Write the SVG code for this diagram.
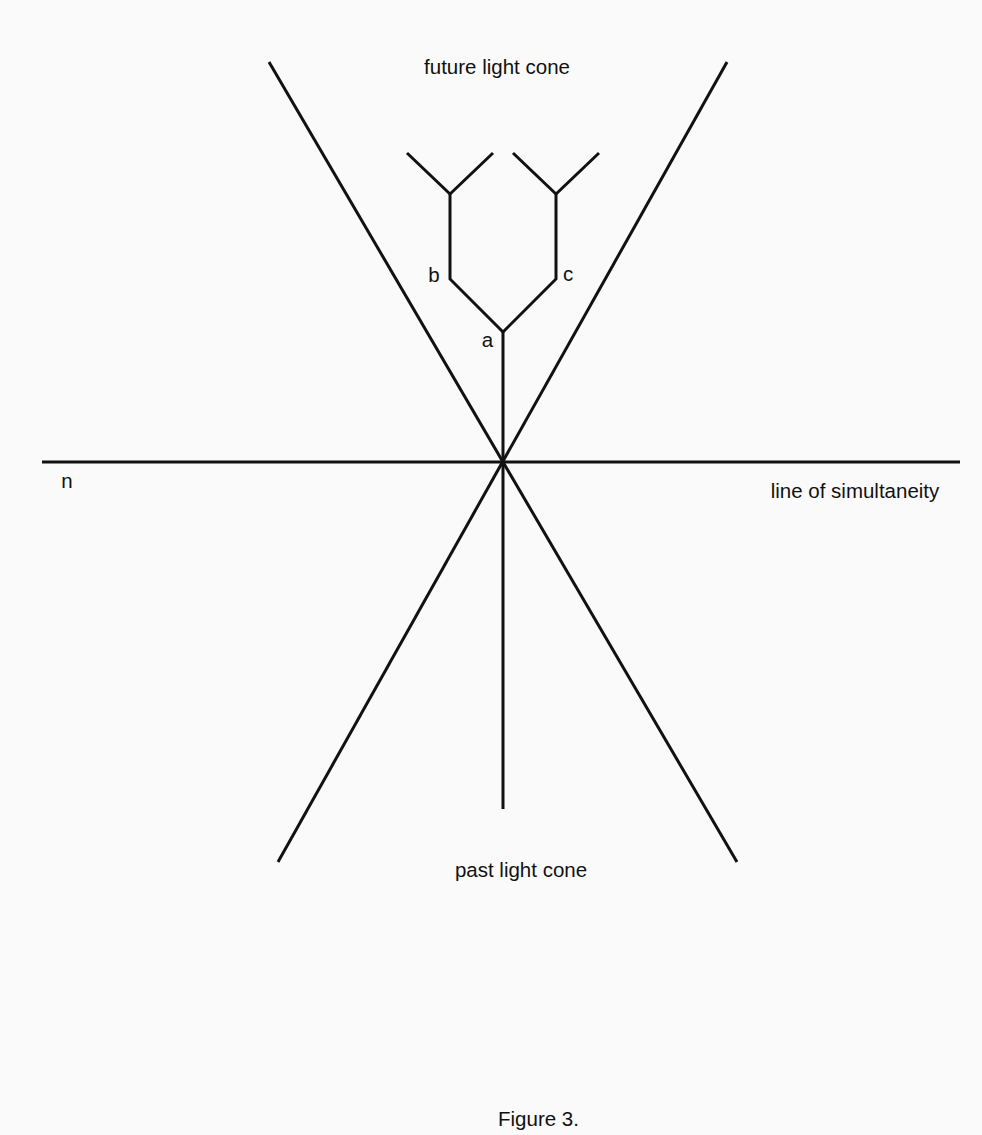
<svg xmlns="http://www.w3.org/2000/svg" width="982" height="1135" viewBox="0 0 982 1135">
<style>
.l{stroke:#111;stroke-width:3;fill:none;stroke-linecap:butt;stroke-linejoin:miter}
text{font-family:"Liberation Sans",Arial,sans-serif;font-size:20.5px;fill:#111}
</style>
<rect width="982" height="1135" fill="#fafafa"/>
<g id="connectors">
<line class="l" x1="269" y1="62" x2="737" y2="862"/>
<line class="l" x1="727" y1="62" x2="278" y2="862"/>
<line class="l" x1="42" y1="462" x2="960" y2="462"/>
<line class="l" x1="503" y1="332" x2="503" y2="809"/>
<polyline class="l" points="503,332 450,279 450,194"/>
<polyline class="l" points="503,332 556,279 556,194"/>
<polyline class="l" points="407,153 450,194 493,153"/>
<polyline class="l" points="513,153 556,194 599,153"/>
</g>
<g id="labels">
<text x="497" y="74" text-anchor="middle">future light cone</text>
<text x="521" y="877" text-anchor="middle">past light cone</text>
<text x="855" y="498" text-anchor="middle">line of simultaneity</text>
<text x="67" y="488" text-anchor="middle">n</text>
<text x="434" y="282" text-anchor="middle">b</text>
<text x="568" y="281" text-anchor="middle">c</text>
<text x="487.5" y="347" text-anchor="middle">a</text>
<text x="538.5" y="1126" text-anchor="middle">Figure 3.</text>
</g>
</svg>
